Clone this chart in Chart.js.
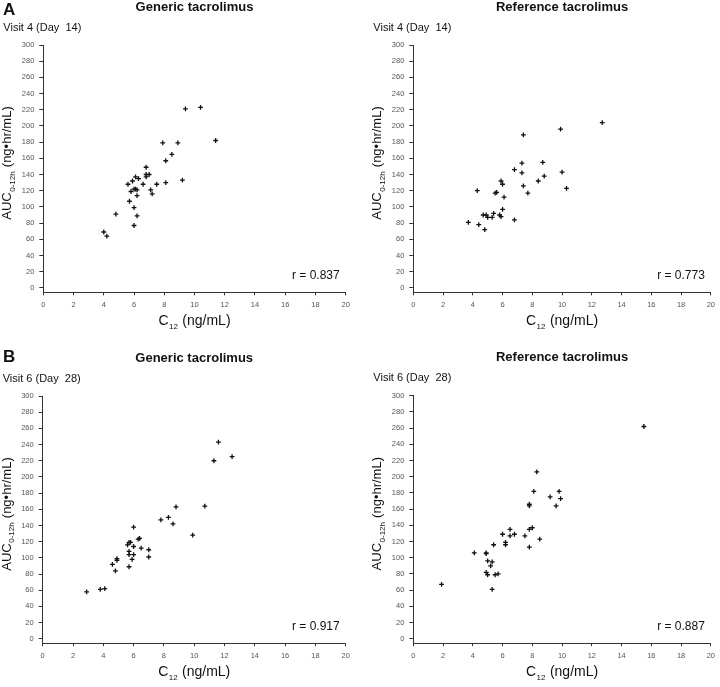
<!DOCTYPE html>
<html>
<head>
<meta charset="utf-8">
<script src="https://cdn.jsdelivr.net/npm/chart.js@4.4.0/dist/chart.umd.min.js"></script>
<style>
  body { margin: 0; background: #fff; }
  #wrap { position: relative; width: 720px; height: 687px; }
  canvas { position: absolute; }
</style>
</head>
<body>
<div id="wrap">
  <canvas id="c1" width="360" height="330" style="left:0;top:0"></canvas>
  <canvas id="c2" width="360" height="330" style="left:360px;top:0"></canvas>
  <canvas id="c3" width="360" height="357" style="left:0;top:330px"></canvas>
  <canvas id="c4" width="360" height="357" style="left:360px;top:330px"></canvas>
</div>
<script>
// axis ticks
const xTicks = [0, 2, 4, 6, 8, 10, 12, 14, 16, 18, 20];
const yTicks = [0, 20, 40, 60, 80, 100, 120, 140, 160, 180, 200, 220, 240, 260, 280, 300];

// Visit 4 (Day 14) - generic
const gen4X = [4.0, 4.2, 4.8, 5.6, 5.7, 5.8, 5.9, 6.0, 6.0, 6.0, 6.1, 6.2, 6.1, 6.2, 6.2, 6.3, 6.6, 6.8, 6.8, 6.8, 7.0, 7.1, 7.2, 7.5, 7.9, 8.1, 8.1, 8.5, 8.9, 9.2, 9.4, 10.4, 11.4];
const gen4Y = [69, 64, 91, 128, 107, 119, 132, 99, 77, 122, 122, 121, 137, 114, 89, 135, 128, 149, 137, 140, 140, 121, 116, 128, 179, 157, 130, 165, 179, 133, 221, 223, 182];

// Visit 4 (Day 14) - reference
const ref4X = [3.7, 4.3, 4.4, 4.7, 4.8, 4.9, 5.0, 5.3, 5.4, 5.5, 5.6, 5.8, 5.9, 5.9, 6.0, 6.0, 6.1, 6.8, 6.8, 7.3, 7.3, 7.4, 7.4, 7.7, 8.4, 8.7, 8.8, 9.9, 10.0, 10.3, 12.7];
const ref4Y = [81, 120, 78, 90, 72, 90, 87, 87, 92, 117, 118, 90, 88, 132, 128, 97, 112, 84, 146, 154, 142, 189, 126, 117, 132, 155, 138, 196, 143, 123, 204];

// Visit 6 (Day 28) - generic
const gen6X = [2.9, 3.8, 4.1, 4.6, 4.8, 4.9, 4.9, 5.6, 5.7, 5.8, 5.7, 5.7, 5.7, 6.0, 5.9, 6.0, 6.0, 6.3, 6.4, 6.5, 7.0, 7.0, 7.8, 8.3, 8.6, 8.8, 9.9, 10.7, 11.3, 11.6, 12.5];
const gen6Y = [58, 61, 62, 92, 84, 99, 97, 116, 119, 119, 108, 104, 89, 104, 98, 114, 138, 123, 124, 112, 110, 101, 147, 150, 142, 163, 128, 164, 220, 243, 225];

// Visit 6 (Day 28) - reference
const ref6X = [1.9, 4.1, 4.9, 4.9, 4.9, 5.0, 5.0, 5.2, 5.3, 5.3, 5.4, 5.5, 5.7, 6.0, 6.2, 6.2, 6.5, 6.5, 6.8, 7.5, 7.8, 7.8, 7.8, 7.8, 8.0, 8.1, 8.3, 8.5, 9.2, 9.6, 9.8, 9.9, 15.5];
const ref6Y = [67, 106, 106, 105, 82, 96, 79, 90, 95, 61, 116, 79, 80, 129, 119, 116, 135, 127, 129, 127, 166, 164, 135, 113, 137, 182, 206, 123, 175, 164, 182, 173, 262];

const FONT = '"Liberation Sans", Arial, sans-serif';

// text with a subscript part, centred on 0 along the current x direction
function drawSub(ctx, size, a, sub, b) {
  const main = size + 'px ' + FONT, small = '8px ' + FONT;
  ctx.font = main;
  const wa = ctx.measureText(a).width, wb = ctx.measureText(b).width;
  ctx.font = small;
  const ws = ctx.measureText(sub).width + 1;
  const x = -(wa + ws + wb) / 2;
  ctx.textAlign = 'left';
  ctx.font = main;
  ctx.fillText(a, x, 0);
  ctx.font = small;
  ctx.fillText(sub, x + wa + 0.5, 3.5);
  ctx.font = main;
  ctx.fillText(b, x + wa + ws, 0);
}

const panelText = {
  id: 'panelText',
  afterDraw(chart, args, o) {
    const { ctx, chartArea: a } = chart;
    const cx = (a.left + a.right) / 2;
    ctx.save();
    ctx.fillStyle = '#111';
    ctx.textBaseline = 'alphabetic';
    if (o.letter) {
      ctx.font = 'bold 17px ' + FONT;
      ctx.textAlign = 'left';
      ctx.fillText(o.letter, 3, o.letterY);
    }
    ctx.font = 'bold 13px ' + FONT;
    ctx.textAlign = 'center';
    ctx.fillText(o.title, cx, a.top - 34.5);
    ctx.font = '11px ' + FONT;
    ctx.textAlign = 'left';
    ctx.fillText(o.visit, a.left - 40, a.top - 14.3);
    ctx.font = '12px ' + FONT;
    ctx.textAlign = 'right';
    ctx.fillText(o.r, a.right - 6, a.bottom - 13);

    ctx.save();
    ctx.translate(cx, a.bottom + 33);
    drawSub(ctx, 14, 'C', '12', ' (ng/mL)');
    ctx.restore();

    ctx.save();
    ctx.translate(a.left - 32, a.top + 118);
    ctx.rotate(-Math.PI / 2);
    drawSub(ctx, 13, 'AUC', '0-12h', ' (ng\u2022hr/mL)');
    ctx.restore();
    ctx.restore();
  }
};

function axis(tickVals, min, max, fitKey, fitVal, tickLen, pad) {
  return {
    type: 'linear',
    min: min,
    max: max,
    afterBuildTicks: s => { s.ticks = tickVals.map(v => ({ value: v })); },
    afterFit: s => { s[fitKey] = fitVal; },
    grid: { drawOnChartArea: false, drawTicks: true, tickLength: tickLen, color: '#333', lineWidth: 1 },
    border: { display: true, color: '#333', width: 1 },
    ticks: { color: '#555', padding: pad, font: { family: FONT, size: 7.5 } }
  };
}

function makePanel(id, xs, ys, text, lay) {
  new Chart(document.getElementById(id), {
    type: 'scatter',
    data: {
      datasets: [{
        data: xs.map((x, i) => ({ x: x, y: ys[i] })),
        pointStyle: 'cross',
        radius: 2.4,
        borderWidth: 1.3,
        borderColor: '#111',
        backgroundColor: '#111'
      }]
    },
    options: {
      responsive: false,
      animation: false,
      layout: { padding: { left: 0, top: lay.top, right: lay.right, bottom: 0 } },
      plugins: {
        legend: { display: false },
        tooltip: { enabled: false },
        panelText: text
      },
      scales: {
        x: axis(xTicks, 0, 20, 'height', lay.xH, 3, 5),
        y: axis(yTicks, -5.5, 300, 'width', lay.yW, 4, 5)
      }
    },
    plugins: [panelText]
  });
}

makePanel('c1', gen4X, gen4Y,
  { letter: 'A', letterY: 15, title: 'Generic tacrolimus', visit: 'Visit 4 (Day  14)', r: 'r = 0.837' },
  { top: 45, right: 14.3, xH: 37.7, yW: 43.3 });
makePanel('c2', ref4X, ref4Y,
  { title: 'Reference tacrolimus', visit: 'Visit 4 (Day  14)', r: 'r = 0.773' },
  { top: 45, right: 4.3, xH: 37.7, yW: 53.3 });
makePanel('c3', gen6X, gen6Y,
  { letter: 'B', letterY: 31.7, title: 'Generic tacrolimus', visit: 'Visit 6 (Day  28)', r: 'r = 0.917' },
  { top: 66, right: 14.3, xH: 43.8, yW: 42.7 });
makePanel('c4', ref6X, ref6Y,
  { title: 'Reference tacrolimus', visit: 'Visit 6 (Day  28)', r: 'r = 0.887' },
  { top: 65.7, right: 4, xH: 43.8, yW: 53.3 });
</script>
</body>
</html>
